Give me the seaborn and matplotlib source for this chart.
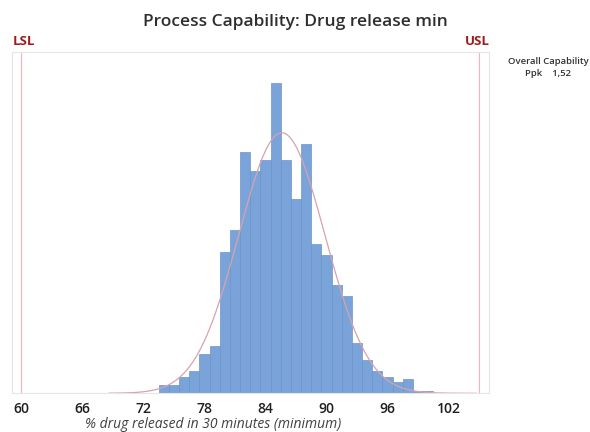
import numpy as np
import pandas as pd
import matplotlib
matplotlib.use("Agg")
import matplotlib.pyplot as plt
import seaborn as sns

# bin centres (width 1) and counts
bin_centers = [74, 75, 76, 77, 78, 79, 80, 81, 82, 83, 84, 85, 86, 87,
               88, 89, 90, 91, 92, 93, 94, 95, 96, 97, 98, 99, 100]
counts = [3, 3, 6, 8, 14, 17, 51, 59, 87, 80, 84, 112, 84, 70,
          90, 54, 50, 39, 35, 18, 12, 8, 6, 4, 5, 1, 1]

# specification limits and fitted normal
lsl, usl = 60, 105
mean, sigma = 85.6, 4.25
n_total = sum(counts)
ppk_text = "1,52"

df = pd.DataFrame({"value": bin_centers, "count": counts})

sns.set_style("white")
plt.rcParams["font.family"] = ["Open Sans", "DejaVu Sans"]

fig = plt.figure(figsize=(5.9, 4.32), dpi=100)
ax = fig.add_axes([0.0208, 0.0896, 0.8085, 0.7894])

sns.histplot(data=df, x="value", weights="count", binwidth=1,
             binrange=(bin_centers[0] - 0.5, bin_centers[-1] + 0.5), ax=ax,
             color="#7aa3da", alpha=1.0, edgecolor="#6b94cc", linewidth=0.5)

# fitted normal curve (scaled to counts)
xs = np.linspace(mean - 4 * sigma, mean + 4.5 * sigma, 400)
ys = n_total * np.exp(-0.5 * ((xs - mean) / sigma) ** 2) / (sigma * np.sqrt(2 * np.pi))
ax.plot(xs, ys, color="#d7a3ab", linewidth=0.9)

# spec limits
for v in (lsl, usl):
    ax.axvline(v, color="#eeb4ba", linewidth=0.8, zorder=0)
ax.text(0.0, 1.012, "LSL", transform=ax.transAxes, ha="left", va="bottom",
        color="#a01c1c", fontsize=9.5, fontweight="bold")
ax.text(1.0, 1.012, "USL", transform=ax.transAxes, ha="right", va="bottom",
        color="#a01c1c", fontsize=9.5, fontweight="bold")

ax.set_xlim(59.1, 106)
ax.set_ylim(0, 123)
ax.set_xticks([60, 66, 72, 78, 84, 90, 96, 102])
ax.set_xticks(np.arange(60, 106, 2), minor=True)
ax.set_yticks([])
ax.set_xlabel("")
ax.set_ylabel("")
ax.tick_params(axis="x", labelsize=10, colors="#e6e6e6", labelcolor="#1e1e1e",
               length=3, width=0.6, pad=3)
ax.tick_params(axis="x", which="minor", length=2, colors="#ececec")
for lab in ax.get_xticklabels():
    lab.set_fontweight("semibold")
for sp in ax.spines.values():
    sp.set_color("#e6e6e6")
    sp.set_linewidth(0.8)

fig.text(0.5, 0.948, "Process Capability: Drug release min", ha="center", va="center",
         fontsize=12.5, fontweight="semibold", color="#2e2e2e")
fig.text(0.361, 0.017, "% drug released in 30 minutes (minimum)", ha="center", va="center",
         fontsize=10, fontstyle="italic", color="#404040")
fig.text(0.929, 0.858, "Overall Capability", ha="center", va="center",
         fontsize=6.8, fontweight="semibold", color="#333333")
fig.text(0.929, 0.830, "Ppk    " + ppk_text, ha="center", va="center",
         fontsize=6.8, fontweight="semibold", color="#333333")

fig.savefig("out.png", dpi=100)
